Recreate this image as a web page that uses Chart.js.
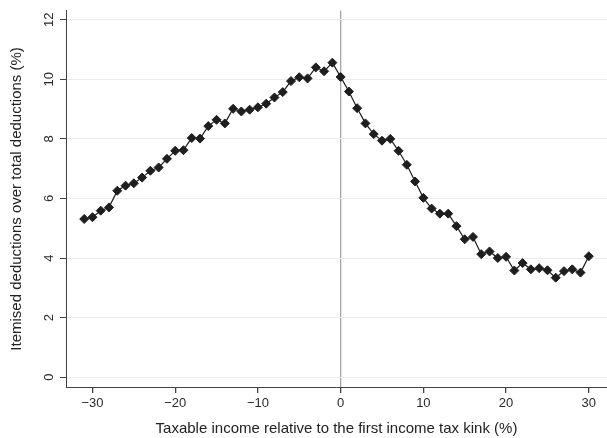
<!DOCTYPE html>
<html>
<head>
<meta charset="utf-8">
<script src="https://cdn.jsdelivr.net/npm/chart.js@4"></script>
<style>
  body { margin: 0; background: #fff; }
  canvas { display: block; }
</style>
</head>
<body>
<canvas id="kinkChart" width="607" height="438"></canvas>
<script>
// bins of taxable income relative to the kink (%)
const incomeBins = [-31, -30, -29, -28, -27, -26, -25, -24, -23, -22, -21, -20, -19, -18, -17, -16,
    -15, -14, -13, -12, -11, -10, -9, -8, -7, -6, -5, -4, -3, -2, -1,
    0, 1, 2, 3, 4, 5, 6, 7, 8, 9, 10, 11, 12, 13, 14, 15,
    16, 17, 18, 19, 20, 21, 22, 23, 24, 25, 26, 27, 28, 29, 30];

// itemised deductions over total deductions (%)
const itemisedShare = [5.31, 5.37, 5.59, 5.70, 6.26, 6.43, 6.51, 6.70, 6.93, 7.04, 7.33, 7.60, 7.62, 8.03, 8.01, 8.43,
    8.64, 8.52, 9.01, 8.92, 8.98, 9.06, 9.18, 9.39, 9.57, 9.94, 10.07, 10.03, 10.40, 10.27, 10.56,
    10.08, 9.59, 9.03, 8.52, 8.16, 7.94, 8.00, 7.60, 7.13, 6.57, 6.02, 5.66, 5.49, 5.49, 5.07, 4.63,
    4.71, 4.13, 4.22, 4.00, 4.04, 3.58, 3.83, 3.62, 3.66, 3.59, 3.34, 3.56, 3.62, 3.51, 4.06];

const xTicks = [-30, -20, -10, 0, 10, 20, 30];
const yTicks = [0, 2, 4, 6, 8, 10, 12];

const xTitle = 'Taxable income relative to the first income tax kink (%)';
const yTitle = 'Itemised deductions over total deductions (%)';

const points = incomeBins.map((x, i) => ({ x: x, y: itemisedShare[i] }));
const fontFamily = '"Liberation Sans", Arial, sans-serif';

new Chart(document.getElementById('kinkChart'), {
    type: 'scatter',
    data: {
        datasets: [{
            data: points,
            showLine: true,
            borderColor: '#1e1e1e',
            borderWidth: 1.2,
            backgroundColor: '#1e1e1e',
            pointStyle: 'rectRot',
            pointRadius: 4.5,
            pointBorderWidth: 1,
            pointBorderColor: '#1e1e1e'
        }]
    },
    options: {
        responsive: false,
        animation: false,
        layout: {
            autoPadding: false,
            padding: { top: 7, right: 0, left: 0, bottom: 0 }
        },
        plugins: {
            legend: { display: false },
            tooltip: { enabled: false }
        },
        scales: {
            x: {
                type: 'linear',
                min: -33.2,
                max: 32.2,
                afterFit: s => {
                    s.height = 51;
                    s.paddingLeft = 0;
                    s.paddingRight = 0;
                },
                afterBuildTicks: s => { s.ticks = xTicks.map(v => ({ value: v })); },
                border: { color: '#444', width: 1 },
                grid: {
                    color: c => (c.tick && c.tick.value === 0) ? '#a6a6a6' : 'rgba(0,0,0,0)',
                    lineWidth: 1.3,
                    tickColor: '#444',
                    tickLength: 6
                },
                ticks: {
                    color: '#2a2a2a',
                    font: { family: fontFamily, size: 13 },
                    padding: 3,
                    maxRotation: 0,
                    callback: v => String(v).replace('-', '\u2212')
                },
                title: {
                    display: true,
                    text: xTitle,
                    color: '#222',
                    font: { family: fontFamily, size: 15 },
                    padding: { top: 4, bottom: 0 }
                }
            },
            y: {
                type: 'linear',
                min: -0.33,
                max: 12.3,
                afterFit: s => { s.width = 66; },
                afterBuildTicks: s => { s.ticks = yTicks.map(v => ({ value: v })); },
                border: { color: '#444', width: 1 },
                grid: {
                    color: '#ececec',
                    lineWidth: 1,
                    tickColor: '#444',
                    tickLength: 6
                },
                ticks: {
                    color: '#2a2a2a',
                    font: { family: fontFamily, size: 13 },
                    padding: 3,
                    minRotation: 90,
                    maxRotation: 90,
                    crossAlign: 'center'
                },
                title: {
                    display: true,
                    text: yTitle,
                    color: '#222',
                    font: { family: fontFamily, size: 15 },
                    padding: { top: 8, bottom: 0 }
                }
            }
        }
    }
});
</script>
</body>
</html>
